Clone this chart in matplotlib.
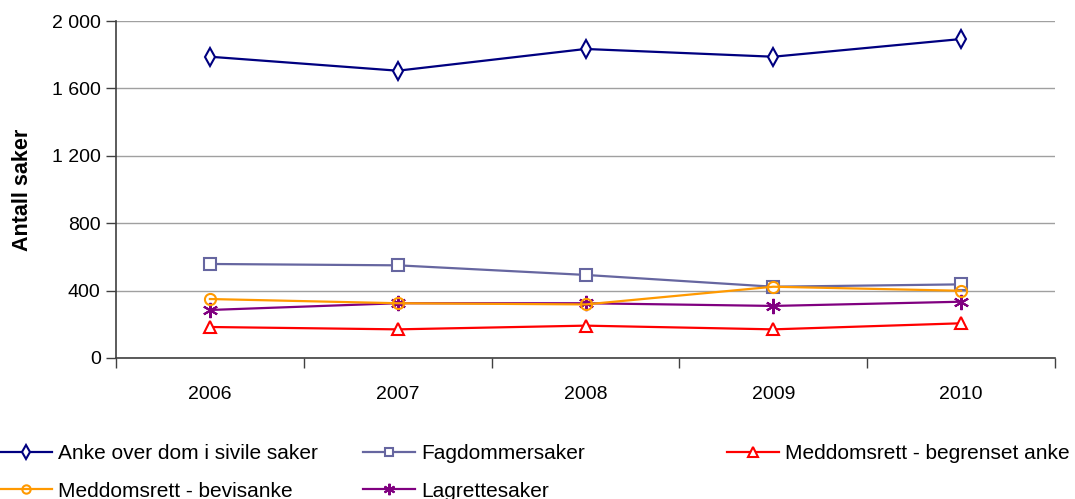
import numpy as np
import matplotlib.pyplot as plt
from matplotlib.ticker import FuncFormatter

plt.rcParams['font.family'] = ['Liberation Sans', 'DejaVu Sans']

years = ['2006', '2007', '2008', '2009', '2010']
anke = [1788, 1705, 1834, 1788, 1893]
fagdommer = [558, 550, 493, 423, 437]
begrenset = [184, 170, 192, 170, 206]
bevisanke = [350, 325, 318, 423, 399]
lagrette = [285, 325, 325, 309, 334]

x = np.arange(len(years))

fig = plt.figure(figsize=(10.75, 4.99), dpi=100)
ax = fig.add_axes([116 / 1075, 1 - 358 / 499, (1055 - 116) / 1075, (358 - 21) / 499])

h_anke, = ax.plot(x, anke, color='#000080', marker='d', markersize=9, mfc='white',
                  mew=1.5, lw=1.6, label='Anke over dom i sivile saker')
h_fag, = ax.plot(x, fagdommer, color='#6666a0', marker='s', markersize=8, mfc='white',
                 mew=1.5, lw=1.6, label='Fagdommersaker')
h_lag, = ax.plot(x, lagrette, color='#800080', marker=(6, 2, 0), markersize=11,
                 mew=1.5, lw=1.6, label='Lagrettesaker')
h_bev, = ax.plot(x, bevisanke, color='#ff9900', marker='o', markersize=8, mfc='none',
                 mew=1.5, lw=1.6, label='Meddomsrett - bevisanke')
h_beg, = ax.plot(x, begrenset, color='#ff0000', marker='^', markersize=9, mfc='white',
                 mew=1.5, lw=1.6, label='Meddomsrett - begrenset anke')

ax.set_xlim(-0.5, 4.5)
ax.set_ylim(0, 2000)
ax.set_yticks(np.arange(0, 2001, 400))
ax.yaxis.set_major_formatter(FuncFormatter(lambda v, p: f'{int(v):,}'.replace(',', ' ')))
ax.set_xticks(x)
ax.set_xticklabels(years)
ax.set_xticks(np.arange(-0.5, 4.6, 1), minor=True)
ax.tick_params(axis='x', which='major', length=0, pad=20, labelsize=14)
ax.tick_params(axis='x', which='minor', length=7, width=1, color='#404040')
ax.tick_params(axis='y', length=7, width=1, color='#404040', labelsize=14, pad=4)
ax.grid(axis='y', color='#a0a0a0', lw=1)
ax.set_axisbelow(True)
for s in ['top', 'right']:
    ax.spines[s].set_visible(False)
for s in ['left', 'bottom']:
    ax.spines[s].set_color('#404040')
    ax.spines[s].set_linewidth(1.2)
ax.set_ylabel('Antall saker', fontsize=15.5, fontweight='bold')
ax.yaxis.set_label_coords((33 - 116) / 939, 0.5)

leg_kw = dict(loc='upper left', frameon=False, fontsize=15, handlelength=2.5,
              handletextpad=0.3, labelspacing=0.9, borderpad=0, borderaxespad=0,
              markerscale=0.75)
fig.legend(handles=[h_anke, h_bev], bbox_to_anchor=(0.0, 1 - 444 / 499), **leg_kw)
fig.legend(handles=[h_fag, h_lag], bbox_to_anchor=(363 / 1075, 1 - 444 / 499), **leg_kw)
fig.legend(handles=[h_beg], bbox_to_anchor=(727 / 1075, 1 - 444 / 499), **leg_kw)

fig.savefig('out.png', dpi=100)
